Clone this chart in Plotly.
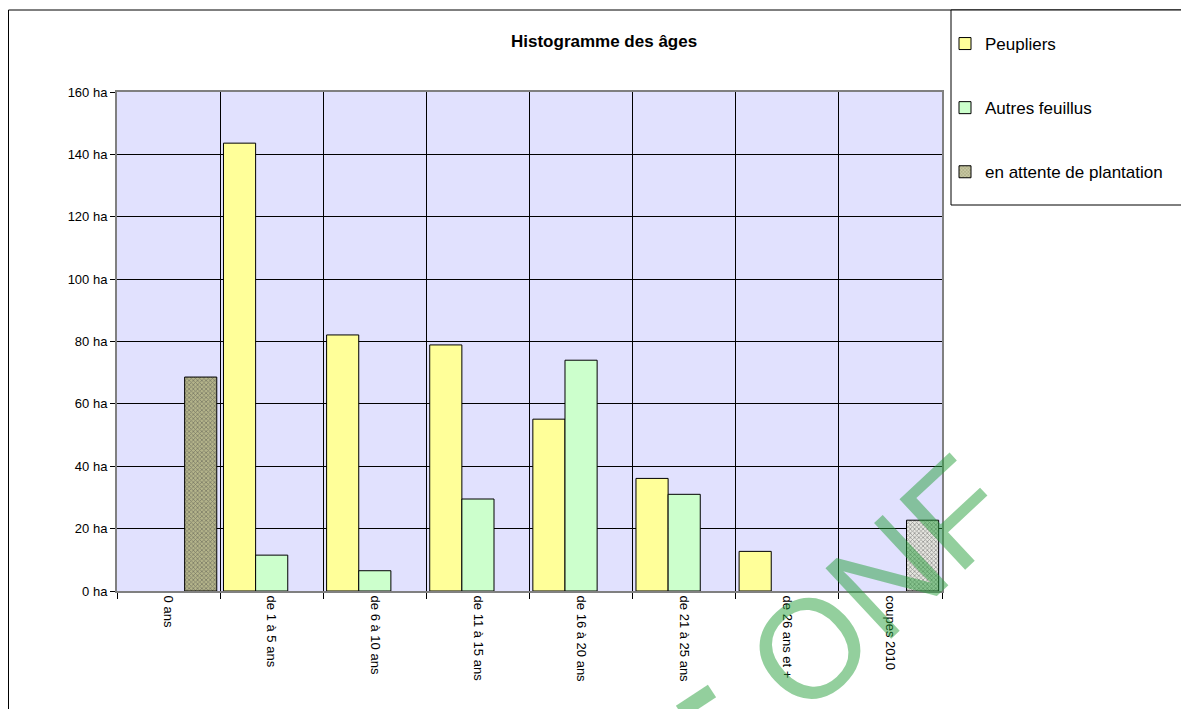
import plotly.graph_objects as go

categories = ["0 ans", "de 1 à 5 ans", "de 6 à 10 ans", "de 11 à 15 ans",
              "de 16 à 20 ans", "de 21 à 25 ans", "de 26 ans et +", "coupes 2010"]
peupliers = [None, 143.6, 82.1, 78.9, 55.1, 36.1, 12.7, None]
autres_feuillus = [None, 11.5, 6.5, 29.5, 74.0, 31.0, None, None]
en_attente = [68.6, None, None, None, None, None, None, 22.7]
y_ticks = [0, 20, 40, 60, 80, 100, 120, 140, 160]
y_tick_text = [f"{v} ha" for v in y_ticks]

# page offset (body margin) and reference-pixel geometry of the plot area
OFF = 8
W, H = 1189 - OFF, 709 - OFF
L, R, T, B = 117, 942, 92, 591
pw, ph = R - L, B - T


def px(x):
    return (x - L) / pw


def py(y):
    return (B - y) / ph


fig = go.Figure()
fig.add_trace(go.Bar(
    name="Peupliers", x=categories, y=peupliers, legendgroup="a",
    marker=dict(color="#FFFF99", line=dict(color="black", width=1)),
))
fig.add_trace(go.Bar(
    name="Autres feuillus", x=categories, y=autres_feuillus, legendgroup="b",
    marker=dict(color="#CCFFCC", line=dict(color="black", width=1)),
))
fig.add_trace(go.Bar(
    name="en attente de plantation", x=categories, y=en_attente, legendgroup="c",
    marker=dict(
        color=["#B4B48A"] * 7 + ["#E6E6E0"],
        line=dict(color="black", width=1),
        pattern=dict(shape="x", size=3, solidity=0.45,
                     fgcolor=["#8A8A5C"] * 7 + ["#C4C4BC"],
                     bgcolor=["#C8C8A4"] * 7 + ["#F0F0E8"]),
    ),
))

fig.update_layout(
    width=W, height=H,
    margin=dict(l=L - OFF, r=W - (R - OFF), t=T - OFF, b=H - (B - OFF), pad=0),
    paper_bgcolor="white",
    plot_bgcolor="#E1E1FE",
    barmode="group", bargap=0.065, bargroupgap=0,
    font=dict(family="Liberation Sans, Arial, sans-serif", color="black", size=13),
    showlegend=True,
    legend=dict(
        x=px(945), y=py(26), xanchor="left", yanchor="top",
        bgcolor="rgba(0,0,0,0)", borderwidth=0,
        font=dict(size=17, color="black"),
        tracegroupgap=39,
    ),
    xaxis=dict(
        type="category", tickson="boundaries", showgrid=True,
        gridcolor="black", gridwidth=1,
        ticks="outside", ticklen=6, tickcolor="black", tickangle=90,
        tickfont=dict(size=13, color="black"),
        showline=True, linecolor="#808080", linewidth=2, mirror=True,
    ),
    yaxis=dict(
        range=[0, 160], tickmode="array", tickvals=y_ticks, ticktext=y_tick_text,
        showgrid=True, gridcolor="black", gridwidth=1, zeroline=False,
        ticks="outside", ticklen=5, tickcolor="black",
        tickfont=dict(size=13, color="black"),
        showline=True, linecolor="#808080", linewidth=2, mirror=True,
    ),
    shapes=[
        # outer chart frame
        dict(type="rect", xref="paper", yref="paper",
             x0=px(8.5), x1=px(1188), y0=py(730), y1=py(10),
             line=dict(color="black", width=1), fillcolor="rgba(0,0,0,0)", layer="below"),
        # legend box
        dict(type="rect", xref="paper", yref="paper",
             x0=px(951), x1=px(1182), y0=py(205), y1=py(10),
             line=dict(color="black", width=1), fillcolor="white", layer="below"),
        # watermark fragment
        dict(type="line", xref="paper", yref="paper",
             x0=px(680), y0=py(712), x1=px(712), y1=py(691),
             line=dict(color="rgba(40,160,60,0.5)", width=15), layer="above"),
    ],
    annotations=[
        dict(text="<b>Histogramme des âges</b>", xref="paper", yref="paper",
             x=px(604), y=py(42), xanchor="center", yanchor="middle", showarrow=False,
             font=dict(size=17, color="black")),
        dict(text="ONF", xref="paper", yref="paper",
             x=px(878), y=py(584), xanchor="center", yanchor="middle",
             showarrow=False, textangle=-43,
             font=dict(size=140, color="rgba(40,160,60,0.5)",
                       family="Liberation Sans, Arial, sans-serif")),
    ],
)

fig.write_html("out.html")
